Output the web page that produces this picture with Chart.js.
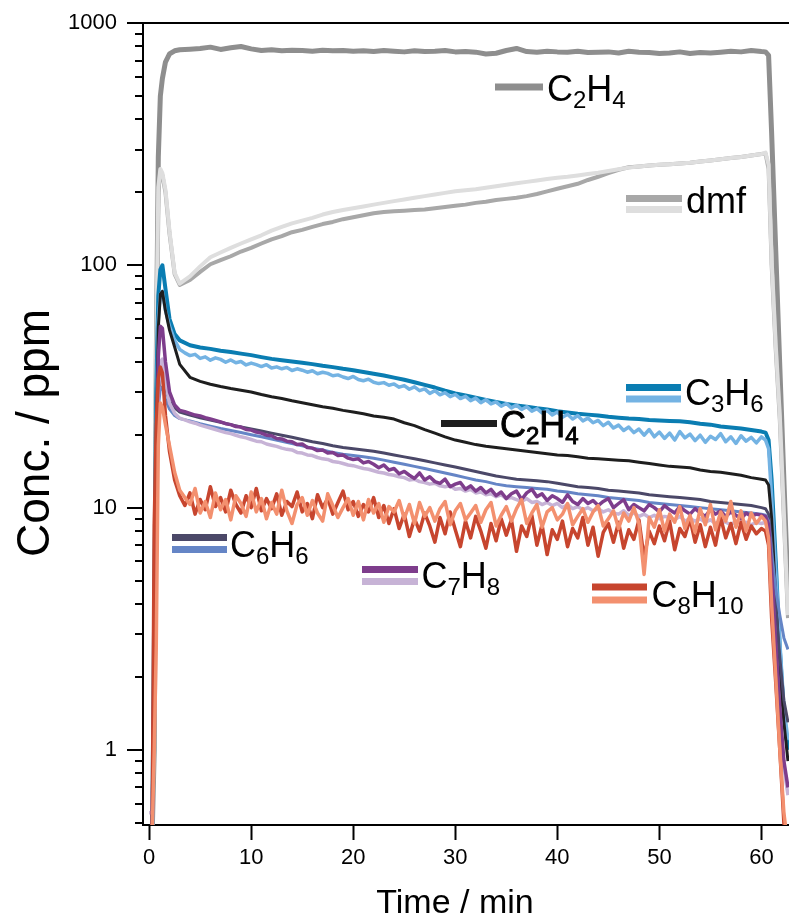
<!DOCTYPE html>
<html>
<head>
<meta charset="utf-8">
<script src="https://cdn.jsdelivr.net/npm/chart.js@4.4.1/dist/chart.umd.min.js"></script>
<style>
  html, body { margin: 0; padding: 0; background: #fff; }
</style>
</head>
<body>
<canvas id="concChart" width="789" height="920"></canvas>
<script>
// time grids (min)
const tCoarse = [0, 0.3, 0.5, 0.7, 0.9, 1.1, 1.3, 1.6, 2, 2.5, 3,
  4, 5, 6, 7, 8, 9, 10, 11, 12, 13, 14, 15, 16, 17, 18, 19, 20, 21, 22, 23, 24, 25, 26, 27, 28, 29, 30,
  31, 32, 33, 34, 35, 36, 37, 38, 39, 40, 41, 42, 43, 44, 45, 46, 47, 48, 49, 50, 51, 52, 53, 54, 55,
  56, 57, 58, 59, 60,
  60.4, 60.7, 61, 61.4, 61.8, 62.2, 62.6];

const tFine = [0, 0.3, 0.5, 0.7, 0.9, 1.1, 1.3, 1.6, 2, 2.5, 3,
  3.5, 4, 4.5, 5, 5.5, 6, 6.5, 7, 7.5, 8,
  8.5, 9, 9.5, 10, 10.5, 11, 11.5, 12, 12.5, 13,
  13.5, 14, 14.5, 15, 15.5, 16, 16.5, 17, 17.5, 18,
  18.5, 19, 19.5, 20, 20.5, 21, 21.5, 22, 22.5, 23,
  23.5, 24, 24.5, 25, 25.5, 26, 26.5, 27, 27.5, 28,
  28.5, 29, 29.5, 30, 30.5, 31, 31.5, 32, 32.5, 33,
  33.5, 34, 34.5, 35, 35.5, 36, 36.5, 37, 37.5, 38,
  38.5, 39, 39.5, 40, 40.5, 41, 41.5, 42, 42.5, 43,
  43.5, 44, 44.5, 45, 45.5, 46, 46.5, 47, 47.5, 48,
  48.5, 49, 49.5, 50, 50.5, 51, 51.5, 52, 52.5, 53,
  53.5, 54, 54.5, 55, 55.5, 56, 56.5, 57, 57.5, 58,
  58.5, 59, 59.5, 60,
  60.4, 60.7, 61, 61.4, 61.8, 62.2, 62.6];

// ppm, on tCoarse
const ethyleneGray = [0.45, 0.45, 1.0, 40, 280, 500, 590, 690, 745, 768, 776,
  780, 785, 795, 778, 790, 800, 782, 770, 775, 768, 772, 770, 765, 772, 768, 770, 765, 768, 762, 770,
  765, 760, 768, 762, 765, 770, 760, 763, 758, 745, 750, 770, 785, 762, 758, 765, 760, 758, 765, 755,
  758, 760, 752, 765, 758, 755, 748, 752, 760, 748, 755, 752, 758, 765, 760, 770, 762,
  760, 735, 350, 115, 38, 13, 4.5];

const dmfDark = [0.45, 0.45, 1.5, 40, 200, 245, 235, 200, 135, 92, 83,
  87, 94, 101, 105, 109, 114, 118, 123, 128, 132, 137, 140, 144, 148, 151, 155, 158, 161, 164, 166,
  167, 168, 169, 170, 172, 174, 176, 178, 181, 183, 186, 188, 190, 193, 197, 202, 207, 212, 217, 225,
  232, 240, 248, 254, 256, 258, 260, 261, 263, 265, 268, 271, 274, 277, 280, 284, 288,
  289, 250, 100, 45, 23, 9, 3.5];

const dmfLight = [0.45, 0.45, 1.5, 45, 210, 250, 240, 205, 138, 93, 84,
  90, 99, 108, 113, 118, 123, 128, 133, 139, 144, 149, 153, 157, 162, 166, 169, 172, 175, 178, 181,
  184, 187, 190, 193, 196, 199, 202, 204, 206, 209, 212, 215, 218, 221, 224, 227, 230, 232, 235, 238,
  241, 245, 249, 253, 256, 258, 260, 261, 263, 265, 268, 271, 274, 277, 280, 284, 288,
  292, 260, 105, 47, 24, 9.5, 3.6];

const ethyleneBlack = [0.45, 0.45, 3, 20, 55, 76, 78, 65, 54, 46, 39,
  34.5, 33.2, 32.3, 31.6, 31.0, 30.5, 30.0, 29.3, 28.7, 28.2, 27.6, 27.1, 26.6, 26.1, 25.7, 25.2, 24.8,
  24.4, 23.9, 23.6, 23.2, 22.4, 21.8, 21.0, 20.3, 19.6, 19.0, 18.6, 18.2, 17.9, 17.7, 17.5, 17.3, 17.1,
  16.9, 16.7, 16.5, 16.4, 16.2, 16.0, 15.9, 15.8, 15.7, 15.6, 15.4, 15.2, 15.0, 14.8, 14.7, 14.6, 14.3,
  14.1, 14.0, 13.8, 13.6, 13.3, 13.1,
  13.0, 12.4, 9, 4.2, 2.1, 1.3, 0.9];

const propyleneDark = [0.45, 0.45, 4, 30, 75, 96, 100, 80, 60, 52, 49,
  46.8, 45.8, 45.2, 44.4, 43.9, 43.2, 42.6, 41.8, 41.1, 40.6, 40.1, 39.6, 39.1, 38.5, 38.0, 37.4, 36.9,
  36.3, 35.7, 35.1, 34.4, 33.7, 32.9, 32.1, 31.3, 30.4, 29.6, 29.0, 28.4, 27.8, 27.3, 26.8, 26.4, 26.1,
  25.7, 25.4, 25.0, 24.7, 24.4, 24.2, 24.0, 23.7, 23.5, 23.3, 23.2, 23.0, 22.9, 22.8, 22.7, 22.5, 22.2,
  22.0, 21.6, 21.4, 21.2, 20.9, 20.6,
  20.4, 19.0, 13, 6, 2.6, 1.4, 1.0];

const benzeneDark = [0.45, 0.45, 2, 12, 28, 35, 36, 31, 27.5, 25.8, 24.8,
  24.1, 23.5, 23.0, 22.5, 22.0, 21.5, 21.1, 20.7, 20.3, 19.9, 19.5, 19.1, 18.7, 18.4, 18.0, 17.7, 17.5,
  17.3, 17.1, 16.8, 16.5, 16.2, 15.9, 15.6, 15.3, 15.0, 14.7, 14.4, 14.1, 13.8, 13.5, 13.3, 13.1, 13.0,
  12.9, 12.8, 12.6, 12.4, 12.2, 12.1, 12.0, 11.8, 11.7, 11.6, 11.5, 11.3, 11.2, 11.1, 11.0, 10.9, 10.8,
  10.6, 10.5, 10.4, 10.3, 10.2, 10.0,
  9.9, 9.4, 7, 4, 2.4, 1.6, 1.3];

const benzeneLight = [0.45, 0.45, 2, 12, 26, 31, 31.5, 28, 25.5, 24, 23.3,
  22.8, 22.2, 21.7, 21.2, 20.8, 20.4, 20.0, 19.6, 19.2, 18.8, 18.4, 18.0, 17.6, 17.3, 16.9, 16.6, 16.4,
  16.2, 16.0, 15.7, 15.4, 15.1, 14.8, 14.5, 14.2, 13.9, 13.6, 13.3, 13.0, 12.8, 12.5, 12.3, 12.2, 12.1,
  12.0, 11.9, 11.7, 11.6, 11.4, 11.3, 11.2, 11.0, 10.9, 10.8, 10.7, 10.5, 10.4, 10.3, 10.2, 10.1, 10.0,
  9.9, 9.8, 9.7, 9.6, 9.5, 9.4,
  9.3, 8.8, 6.5, 4.6, 3.6, 2.9, 2.6];

// ppm, on tFine
const propyleneLight = [0.45, 0.45, 3, 22, 60, 76, 78, 65, 56, 49, 45,
  43.5, 42.4, 42.9, 41.3, 41.9, 40.6, 41.5, 40.9, 39.8, 40.7,
  39.6, 40.1, 38.8, 39.5, 38.9, 38.2, 38.9, 37.7, 38.1, 37.4,
  37.9, 36.8, 37.4, 36.9, 36.2, 36.7, 35.7, 36.2, 35.8, 35.0,
  35.3, 34.6, 34.1, 34.8, 33.8, 33.4, 33.9, 32.9, 32.5, 32.8,
  32.0, 32.4, 31.4, 31.9, 30.8, 31.5, 30.4, 30.9, 29.6, 30.4,
  29.2, 29.8, 28.7, 29.3, 28.2, 28.8, 27.6, 28.3, 27.1, 27.9,
  26.8, 27.3, 26.2, 26.9, 25.8, 26.5, 25.4, 26.1, 25.0, 25.6,
  24.6, 25.2, 24.1, 24.8, 23.6, 24.3, 23.2, 24.0, 22.8, 23.4,
  22.4, 22.9, 21.8, 22.5, 21.3, 21.9, 20.8, 21.5, 20.4, 21.1,
  19.9, 21.0, 19.6, 20.5, 19.3, 20.3, 19.0, 20.6, 19.4, 20.1,
  18.9, 19.9, 18.6, 19.7, 19.1, 20.2, 18.7, 19.6, 18.4, 19.8,
  18.8, 19.5, 18.5, 19.6,
  19.0, 17.5, 11, 5.5, 2.8, 1.5, 1.1];

const tolueneDark = [0.45, 0.45, 2.5, 15, 42, 56, 55, 40, 30, 26.5, 25.2,
  24.9, 24.5, 24.1, 23.9, 23.5, 23.2, 22.9, 22.6, 22.2, 22.0,
  21.6, 21.5, 21.0, 20.9, 20.5, 20.3, 19.9, 19.8, 19.3, 19.2,
  18.8, 18.7, 18.2, 18.3, 17.7, 17.6, 17.2, 17.3, 16.8, 16.9,
  16.4, 16.5, 16.0, 15.8, 15.9, 15.3, 15.5, 15.1, 14.6, 15.0,
  14.3, 14.5, 13.8, 14.1, 13.6, 13.2, 13.9, 13.0, 13.4, 12.8,
  12.6, 13.1, 12.2, 12.5, 12.7, 11.9, 12.3, 11.7, 12.1, 11.5,
  11.9, 11.2, 11.6, 10.9, 11.4, 11.7, 10.8, 11.5, 11.9, 11.1,
  11.4, 10.7, 11.2, 10.9, 10.5, 11.3, 10.6, 10.3, 10.9, 10.4,
  10.7, 10.2, 10.6, 10.9, 10.0, 10.4, 10.8, 9.8, 10.3, 10.0,
  9.7, 10.3, 10.0, 9.6, 10.2, 9.8, 9.5, 10.1, 9.7, 9.4,
  9.9, 9.5, 9.2, 9.8, 9.4, 9.7, 9.2, 9.6, 9.3, 9.0,
  9.5, 9.2, 9.4, 9.3,
  9.2, 8.5, 5.5, 2.8, 1.5, 0.9, 0.7];

const tolueneLight = [0.55, 0.55, 2, 10, 30, 40, 41, 33, 27, 24.5, 23.4,
  23.0, 22.6, 22.3, 21.9, 21.6, 21.3, 21.0, 20.7, 20.4, 20.2,
  19.9, 19.6, 19.4, 19.1, 18.8, 18.7, 18.3, 18.1, 17.9, 17.6,
  17.4, 17.3, 16.9, 16.8, 16.5, 16.4, 16.1, 15.9, 15.8, 15.5,
  15.4, 15.2, 15.0, 14.9, 14.7, 14.5, 14.4, 14.2, 14.0, 13.9,
  13.7, 13.6, 13.4, 13.3, 13.0, 13.1, 12.8, 12.7, 12.5, 12.6,
  12.3, 12.2, 12.3, 11.9, 12.0, 11.7, 11.9, 11.5, 11.6, 11.3,
  11.4, 11.1, 11.3, 10.9, 11.0, 10.8, 10.6, 10.9, 10.5, 10.6,
  10.3, 10.5, 10.2, 10.4, 10.0, 10.3, 9.9, 10.1, 9.8, 10.0,
  9.7, 9.9, 9.6, 9.8, 9.5, 9.4, 9.7, 9.3, 9.5, 9.2,
  9.4, 9.1, 9.3, 9.0, 9.2, 9.1, 8.9, 9.2, 8.8, 9.0,
  8.8, 9.0, 8.7, 8.9, 8.6, 8.8, 8.7, 8.5, 8.8, 8.6,
  8.7, 8.5, 8.7, 8.6,
  8.7, 8.0, 5.0, 2.6, 1.4, 0.85, 0.65];

const xyleneDark = [0.45, 0.45, 8.5, 22, 34, 38, 36, 24, 17, 13, 11.2,
  10.2, 11.5, 9.4, 10.8, 9.8, 12.2, 10.1, 11.0, 9.6, 11.8,
  10.3, 9.5, 11.2, 10.0, 12.0, 9.7, 10.9, 9.9, 11.4, 9.3,
  10.6, 10.1, 11.6, 9.6, 10.4, 9.0, 11.3, 10.0, 10.9, 9.4,
  10.5, 11.7, 9.8, 10.6, 9.2, 10.3, 9.6, 11.0, 9.1, 10.2,
  8.6, 9.9, 8.2, 9.4, 7.6, 9.0, 8.0, 9.5, 8.4, 7.2,
  9.1, 7.8, 9.6, 8.1, 6.9, 8.8, 7.5, 9.2, 8.0, 6.8,
  8.6, 7.3, 9.0, 7.7, 8.9, 6.6, 8.4, 7.6, 9.3, 7.0,
  8.5, 6.4, 8.1, 7.4, 8.8, 6.9, 8.2, 7.5, 9.1, 7.0,
  8.3, 6.3, 7.9, 8.6, 7.2, 8.7, 6.8, 8.1, 7.4, 8.9,
  6.2, 8.0, 7.1, 8.4, 7.3, 8.8, 6.7, 8.2, 7.6, 9.0,
  7.2, 8.5, 6.9, 8.3, 7.0, 9.1, 7.5, 8.6, 7.1, 8.7,
  7.4, 8.4, 7.8, 8.2,
  8.0, 7.0, 3.5, 1.9, 1.0, 0.5, 0.4];

const xyleneLight = [0.45, 0.45, 1.0, 2.7, 18, 27, 26, 22, 18, 14, 11.8,
  11.0, 10.3, 12.0, 9.5, 10.6, 9.1, 11.5, 9.8, 10.8, 8.9,
  11.2, 10.4, 9.2, 11.6, 9.6, 10.9, 9.0, 10.5, 9.4, 11.8,
  9.7, 8.6, 10.3, 11.0, 9.3, 10.7, 9.5, 8.8, 11.4, 10.2,
  9.1, 10.0, 10.9, 9.3, 10.6, 8.9, 10.8, 9.5, 10.4, 8.7,
  10.1, 9.6, 10.7, 9.0, 10.3, 8.6, 10.5, 9.2, 10.0, 8.8,
  9.9, 10.6, 8.5, 9.7, 10.4, 8.9, 9.5, 10.2, 8.7, 9.8,
  10.5, 8.4, 9.3, 10.1, 8.8, 9.9, 10.8, 8.6, 9.5, 10.3,
  8.3, 9.6, 10.0, 8.9, 9.4, 10.4, 8.5, 9.2, 9.9, 8.7,
  9.6, 10.2, 8.4, 9.0, 9.7, 8.2, 9.5, 8.8, 10.0, 8.6,
  5.3, 9.1, 8.3, 9.8, 8.0, 9.4, 8.7, 10.1, 8.2, 9.3,
  7.9, 9.9, 8.5, 10.3, 8.1, 9.6, 8.8, 10.6, 8.3, 9.7,
  8.0, 9.5, 8.6, 9.2,
  8.8, 7.5, 4.0, 2.0, 1.0, 0.55, 0.4];

const xTicks = [0, 10, 20, 30, 40, 50, 60];
const yTicks = [0.5, 0.6, 0.7, 0.8, 0.9, 1, 2, 3, 4, 5, 6, 7, 8, 9, 10, 20, 30, 40, 50, 60, 70, 80, 90,
  100, 200, 300, 400, 500, 600, 700, 800, 900, 1000];
const yLabels = [1, 10, 100, 1000];

function pairs(times, values) {
  return values.map((v, i) => ({ x: times[i], y: v }));
}

const FONT = "'Liberation Sans', Arial, Helvetica, sans-serif";
Chart.defaults.font.family = FONT;

// key entries drawn inside the plot
const keyEntries = [
  { text: 'C2H4', colors: ['#8e8e8e'], x0: 495, x1: 543, ys: [87], tx: 547, base: 101 },
  { text: 'dmf', colors: ['#a8a8a8', '#dedede'], x0: 626, x1: 682, ys: [198.5, 209.5], tx: 686, base: 213 },
  { text: 'C3H6', colors: ['#0a7db2', '#74b3e3'], x0: 626, x1: 681, ys: [387.5, 399], tx: 685, base: 405 },
  { text: 'C2H4', colors: ['#1e1e1e'], x0: 441, x1: 497, ys: [423.5], tx: 500, base: 437, heavy: true },
  { text: 'C6H6', colors: ['#4b4868', '#6585c6'], x0: 172, x1: 227, ys: [537.5, 549.5], tx: 230, base: 556.5 },
  { text: 'C7H8', colors: ['#7e3d8c', '#c7b3d6'], x0: 362, x1: 418, ys: [569.5, 581.5], tx: 421.5, base: 588 },
  { text: 'C8H10', colors: ['#c7452e', '#f3906f'], x0: 592, x1: 647, ys: [587, 600], tx: 651.5, base: 606.5 }
];

function drawFormula(ctx, text, x, base, heavy) {
  const parts = text.match(/[0-9]+|[^0-9]+/g);
  let cx = x;
  parts.forEach(p => {
    const sub = /^[0-9]/.test(p);
    ctx.font = (sub ? '24px ' : '36px ') + FONT;
    const yy = sub ? base + 7 : base;
    ctx.fillText(p, cx, yy);
    if (heavy) ctx.strokeText(p, cx, yy);
    cx += ctx.measureText(p).width;
  });
}

const decorations = {
  id: 'decorations',
  afterDatasetsDraw(chart) {
    const ctx = chart.ctx;
    ctx.save();
    ctx.lineCap = 'butt';
    keyEntries.forEach(k => {
      k.colors.forEach((c, i) => {
        ctx.strokeStyle = c;
        ctx.lineWidth = 7;
        ctx.beginPath();
        ctx.moveTo(k.x0, k.ys[i]);
        ctx.lineTo(k.x1, k.ys[i]);
        ctx.stroke();
      });
      ctx.fillStyle = '#000';
      ctx.strokeStyle = '#000';
      ctx.lineWidth = 0.9;
      ctx.textAlign = 'left';
      ctx.textBaseline = 'alphabetic';
      drawFormula(ctx, k.text, k.tx, k.base, k.heavy);
    });
    ctx.restore();
  },
  afterDraw(chart) {
    const { ctx, chartArea: a, scales: { y } } = chart;
    ctx.save();
    ctx.strokeStyle = '#000';
    ctx.lineWidth = 2;
    ctx.beginPath();
    ctx.moveTo(a.left - 1, a.top);
    ctx.lineTo(a.right, a.top);
    ctx.stroke();
    y.ticks.forEach(t => {
      const py = Math.round(y.getPixelForValue(t.value));
      const len = yLabels.includes(t.value) ? 16 : 8;
      ctx.beginPath();
      ctx.moveTo(a.left, py);
      ctx.lineTo(a.left - len, py);
      ctx.stroke();
    });
    ctx.fillStyle = '#000';
    ctx.textAlign = 'center';
    ctx.textBaseline = 'alphabetic';
    ctx.font = '34px ' + FONT;
    ctx.fillText('Time / min', 455, 913);
    ctx.translate(36, 433);
    ctx.rotate(-Math.PI / 2);
    ctx.textBaseline = 'middle';
    ctx.font = '46px ' + FONT;
    ctx.fillText('Conc. / ppm', 0, 0);
    ctx.restore();
  }
};

// dataset 0 is drawn on top
const series = [
  { data: pairs(tFine, xyleneLight), color: '#f3906f', w: 3.5 },
  { data: pairs(tFine, xyleneDark), color: '#c7452e', w: 3.5 },
  { data: pairs(tFine, tolueneDark), color: '#7e3d8c', w: 3.5 },
  { data: pairs(tFine, tolueneLight), color: '#c7b3d6', w: 3.5 },
  { data: pairs(tCoarse, benzeneLight), color: '#6585c6', w: 3 },
  { data: pairs(tCoarse, benzeneDark), color: '#4b4868', w: 3 },
  { data: pairs(tCoarse, ethyleneBlack), color: '#1e1e1e', w: 3 },
  { data: pairs(tFine, propyleneLight), color: '#74b3e3', w: 3.5 },
  { data: pairs(tCoarse, propyleneDark), color: '#0a7db2', w: 4 },
  { data: pairs(tCoarse, dmfLight), color: '#dedede', w: 4 },
  { data: pairs(tCoarse, dmfDark), color: '#a8a8a8', w: 4 },
  { data: pairs(tCoarse, ethyleneGray), color: '#8e8e8e', w: 5 }
];

new Chart(document.getElementById('concChart'), {
  type: 'line',
  data: {
    datasets: series.map(s => ({
      data: s.data,
      borderColor: s.color,
      borderWidth: s.w,
      pointRadius: 0,
      tension: 0,
      fill: false,
      borderJoinStyle: 'round'
    }))
  },
  options: {
    responsive: false,
    animation: false,
    layout: { padding: { top: 23, right: 0, bottom: 0, left: 0 } },
    plugins: { legend: { display: false }, tooltip: { enabled: false } },
    scales: {
      x: {
        type: 'linear',
        min: -0.6,
        max: 62.7,
        afterBuildTicks: s => { s.ticks = xTicks.map(v => ({ value: v })); },
        afterFit: s => { s.height = 95; s.paddingLeft = 0; s.paddingRight = 0; },
        grid: { display: true, drawOnChartArea: false, drawTicks: true, tickLength: 15, tickWidth: 2, tickColor: '#000' },
        border: { display: true, color: '#000', width: 2 },
        ticks: { color: '#000', font: { size: 22 }, padding: 5, maxRotation: 0, autoSkip: false }
      },
      y: {
        type: 'logarithmic',
        min: 0.49,
        max: 1000,
        afterBuildTicks: s => { s.ticks = yTicks.map(v => ({ value: v })); },
        afterFit: s => { s.width = 143; s.paddingTop = 0; s.paddingBottom = 0; },
        grid: { display: false, drawTicks: false },
        border: { display: true, color: '#000', width: 2 },
        ticks: {
          color: '#000',
          font: { size: 22 },
          padding: 26,
          autoSkip: false,
          callback: v => yLabels.includes(v) ? String(v) : ''
        }
      }
    }
  },
  plugins: [decorations]
});
</script>
</body>
</html>
